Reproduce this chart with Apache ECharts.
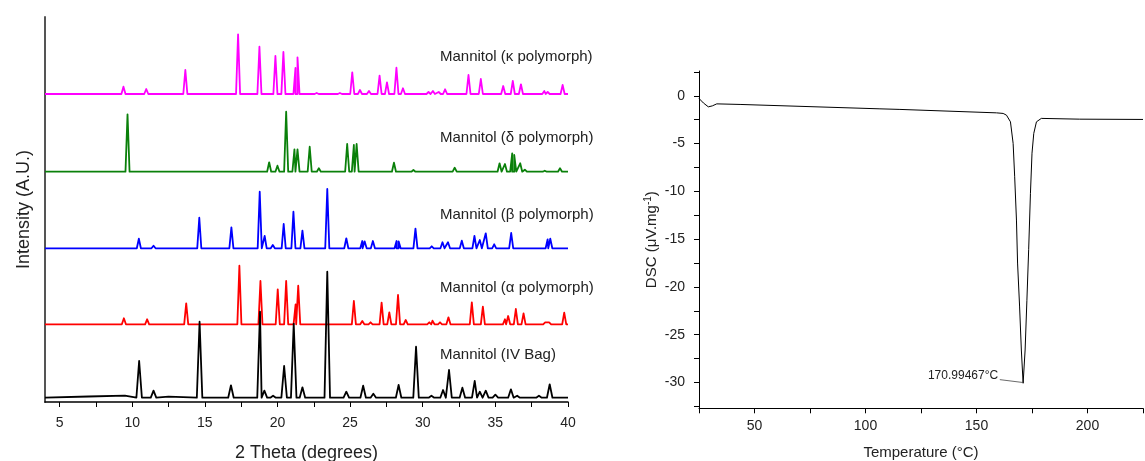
<!DOCTYPE html>
<html>
<head>
<meta charset="utf-8">
<script src="https://cdn.jsdelivr.net/npm/echarts@6.0.0/dist/echarts.min.js"></script>
<style>
  html, body { margin: 0; padding: 0; background: #ffffff; }
  #chart { width: 1145px; height: 461px; }
</style>
</head>
<body>
<div id="chart"></div>
<script>
// ---------- XRD data (2θ in degrees, peak height in arbitrary units above each trace's baseline) ----------
const xrdNames = ['Mannitol (IV Bag)', 'Mannitol (\u03b1 polymorph)', 'Mannitol (\u03b2 polymorph)', 'Mannitol (\u03b4 polymorph)', 'Mannitol (\u03ba polymorph)'];
const xrdOffsets = [4.3, 77.7, 153.7, 230.3, 308];
const xrdRange = [4, 40];
const xrdTickValues = [5, 7.5, 10, 12.5, 15, 17.5, 20, 22.5, 25, 27.5, 30, 32.5, 35, 37.5, 40];
const xrdLabelValues = [5, 10, 15, 20, 25, 30, 35, 40];

const ivBagPeaks = [[10.48,36.7],[11.47,7],[14.64,76],[16.8,12.4],[18.8,86],[19.1,7],[19.7,2],[20.46,31.7],[21.12,74],[21.72,10.4],[23.43,126],[24.74,6],[25.9,12],[26.6,4],[28.34,12.7],[29.54,51],[30.6,2],[31.4,7.7],[31.81,27.7],[32.73,10],[33.58,16.7],[33.93,6],[34.34,7],[35.0,3],[36.07,8.4],[36.5,2],[38.0,2],[38.74,13.4]];
const ivBagBaseline = [[4,-0.8],[7,1.2],[9.5,2],[12.5,1],[14,0.4]];
const alphaPeaks = [[9.43,6],[11.03,5],[13.72,21],[17.38,58.6],[18.83,43.3],[20.02,35],[20.6,43.3],[21.25,20],[21.43,38.6],[25.26,23.3],[25.84,3.3],[26.41,2],[27.17,21.6],[27.7,12],[28.3,29.3],[28.83,4.3],[30.45,2],[30.67,3.6],[31.19,2],[31.77,7],[33.38,22],[34.14,17.6],[35.66,5],[35.88,8.3],[36.41,15.3],[36.94,11],[38.43,2],[38.7,2],[39.74,11.6]];
const betaPeaks = [[10.46,9.6],[11.47,2.6],[14.62,30.6],[16.83,21],[18.78,56.6],[19.12,12.3],[19.68,3.3],[20.43,24.3],[21.1,36.6],[21.72,17.6],[23.43,59.3],[24.74,10],[25.84,7.3],[26.0,7],[26.57,7.3],[28.2,7.3],[28.34,7],[29.5,19.6],[30.62,2],[31.36,6],[31.74,6],[32.69,7.6],[33.56,12.3],[33.93,8.3],[34.34,15],[34.92,4],[36.09,15.3],[38.6,9],[38.78,9.6]];
const deltaPeaks = [[9.68,57.4],[19.43,9.4],[20.0,6],[20.6,60],[21.17,22.4],[21.38,22.4],[22.22,25],[22.85,3.4],[24.8,27.7],[25.26,26.7],[25.45,27.7],[28.02,9],[29.36,1.7],[32.2,4],[35.29,8.4],[35.66,7.7],[36.16,18.4],[36.3,16.7],[36.71,8.4],[37.03,2],[38.4,1],[39.45,3.4]];
const kappaPeaks = [[9.40,7.3],[10.97,5],[13.66,24],[17.29,59.7],[18.76,47.3],[19.86,38],[20.41,42],[21.24,26],[21.38,36.7],[22.7,1],[24.3,1],[25.15,21.7],[25.68,4],[26.3,3],[27.03,18.3],[27.54,11.7],[28.19,26.3],[28.64,5.7],[30.4,2],[30.7,3],[31.1,2],[31.54,4.7],[33.15,19],[34.0,15],[35.54,8],[36.2,13],[36.76,9.7],[38.37,3],[38.6,2],[39.63,9]];

// ---------- DSC data ----------
const dscTemp  = [25, 27, 29.2, 31, 33, 43.5, 106.5, 115.5, 159, 162, 163.5, 165.3, 166.5, 167.2, 168, 168.5, 169.4, 170.2, 171.0, 171.9, 172.7, 173.5, 174.3, 175, 175.8, 177, 179.2, 196.5, 225];
const dscValue = [-0.27, -0.75, -1.15, -1.05, -0.84, -0.9, -1.36, -1.42, -1.78, -1.84, -2.02, -2.72, -4.98, -8.47, -13, -17.5, -22.0, -26.6, -30.08, -26.6, -21.4, -16.1, -10.2, -6.0, -3.93, -2.72, -2.36, -2.44, -2.47];
const dscTickValues = [2.5, 0, -2.5, -5, -7.5, -10, -12.5, -15, -17.5, -20, -22.5, -25, -27.5, -30, -32.5];
const dscLabelValues = [0, -5, -10, -15, -20, -25, -30];
const dscPeakLabel = '170.99467\u00b0C';
const dscPeakPoint = [171.0, -30.08];
const dscLeader = [[160.5, -29.7], [170.9, -30.0]];

// ---------- build traces ----------
function buildTrace(peaks, offset, hw, baseline) {
  const pts = [[xrdRange[0], offset], [xrdRange[1], offset]];
  (baseline || []).forEach(b => pts.push([b[0], offset + b[1]]));
  peaks.forEach(p => {
    pts.push([p[0] - hw, offset]);
    pts.push([p[0], offset + p[1]]);
    pts.push([p[0] + hw, offset]);
  });
  pts.sort((a, b) => a[0] - b[0]);
  return pts;
}
const traces = [
  buildTrace(ivBagPeaks, xrdOffsets[0], 0.19, ivBagBaseline),
  buildTrace(alphaPeaks, xrdOffsets[1], 0.14),
  buildTrace(betaPeaks, xrdOffsets[2], 0.14),
  buildTrace(deltaPeaks, xrdOffsets[3], 0.14),
  buildTrace(kappaPeaks, xrdOffsets[4], 0.14)
];
const colors = ['#000000', '#ff0000', '#0000ff', '#0a800a', '#ff00ff'];
const labelY = [355, 288, 215, 138, 57];
const FONT = 'Liberation Sans, Arial, Helvetica, sans-serif';

const xrdSeries = [1, 2, 3, 4, 0].map(i => ({
  type: 'line', name: xrdNames[i], xAxisIndex: 0, yAxisIndex: 0,
  data: traces[i], showSymbol: false, symbol: 'none', animation: false,
  lineStyle: { color: colors[i], width: 1.8, join: 'round' }, z: i === 0 ? 5 : 3
}));

const dscSeries = {
  type: 'line', xAxisIndex: 1, yAxisIndex: 1,
  data: dscTemp.map((t, i) => [t, dscValue[i]]),
  showSymbol: false, symbol: 'none', animation: false,
  lineStyle: { color: '#000', width: 1 },
  markPoint: {
    symbol: 'circle', symbolSize: 0, animation: false,
    data: [{ coord: dscPeakPoint, value: dscPeakLabel }],
    label: { show: true, position: 'left', distance: 25, offset: [0, -8], formatter: dscPeakLabel,
             color: '#222', fontSize: 12, fontFamily: FONT }
  },
  markLine: {
    symbol: 'none', animation: false, silent: true,
    lineStyle: { color: '#444', width: 0.8, type: 'solid' },
    label: { show: false },
    data: [[{ coord: dscLeader[0] }, { coord: dscLeader[1] }]]
  }
};

const chart = echarts.init(document.getElementById('chart'), null, { renderer: 'canvas' });
chart.setOption({
  backgroundColor: '#ffffff',
  animation: false,
  textStyle: { fontFamily: FONT },
  grid: [
    { left: 45, top: 17, width: 523, height: 385, outerBoundsMode: 'none', containLabel: false },
    { left: 699, top: 71, width: 444, height: 337.3, outerBoundsMode: 'none', containLabel: false }
  ],
  xAxis: [
    {
      gridIndex: 0, type: 'value', min: xrdRange[0], max: xrdRange[1],
      axisLine: { show: true, onZero: false, lineStyle: { color: '#000', width: 1.5 } },
      axisTick: { show: true, customValues: xrdTickValues, length: 5, lineStyle: { color: '#000', width: 1 } },
      axisLabel: { customValues: xrdLabelValues, fontSize: 14, color: '#222', margin: 14, fontFamily: FONT },
      splitLine: { show: false },
      name: '2 Theta (degrees)', nameLocation: 'middle', nameGap: 42,
      nameTextStyle: { fontSize: 18, color: '#222', fontFamily: FONT }
    },
    {
      gridIndex: 1, type: 'value', min: 25, max: 225, interval: 25,
      axisLine: { show: true, onZero: false, lineStyle: { color: '#000', width: 1 } },
      axisTick: { show: true, length: 5, lineStyle: { color: '#000', width: 1 } },
      axisLabel: { fontSize: 14, color: '#222', margin: 11, fontFamily: FONT,
        formatter: v => (v % 50 === 0 && v >= 50 && v <= 200) ? String(v) : '' },
      splitLine: { show: false },
      name: 'Temperature (\u00b0C)', nameLocation: 'middle', nameGap: 37,
      nameTextStyle: { fontSize: 15, color: '#222', fontFamily: FONT }
    }
  ],
  yAxis: [
    {
      gridIndex: 0, type: 'value', min: 0, max: 385,
      axisLine: { show: true, onZero: false, lineStyle: { color: '#555', width: 2 } },
      axisTick: { show: false }, axisLabel: { show: false }, splitLine: { show: false },
      name: 'Intensity (A.U.)', nameLocation: 'middle', nameGap: 12,
      nameTextStyle: { fontSize: 18, color: '#222', fontFamily: FONT }
    },
    {
      gridIndex: 1, type: 'value', min: -32.7, max: 2.6,
      axisLine: { show: true, onZero: false, lineStyle: { color: '#000', width: 1 } },
      axisTick: { show: true, customValues: dscTickValues, length: 5, lineStyle: { color: '#000', width: 1 } },
      axisLabel: { customValues: dscLabelValues, fontSize: 14, color: '#222', margin: 14, fontFamily: FONT },
      splitLine: { show: false },
      name: 'DSC (\u03bcV.mg{sup|-1})', nameLocation: 'middle', nameGap: 38,
      nameTextStyle: { fontSize: 15, color: '#222', fontFamily: FONT,
        rich: { sup: { fontSize: 10, verticalAlign: 'top', color: '#222', padding: [0, 0, 8, 0], fontFamily: FONT } } }
    }
  ],
  graphic: xrdNames.map((n, i) => ({
    type: 'text', x: 440, y: labelY[i], silent: true,
    style: { text: n, fill: '#222', font: '15px ' + FONT, verticalAlign: 'middle', align: 'left' }
  })),
  series: xrdSeries.concat([dscSeries])
});
</script>
</body>
</html>
